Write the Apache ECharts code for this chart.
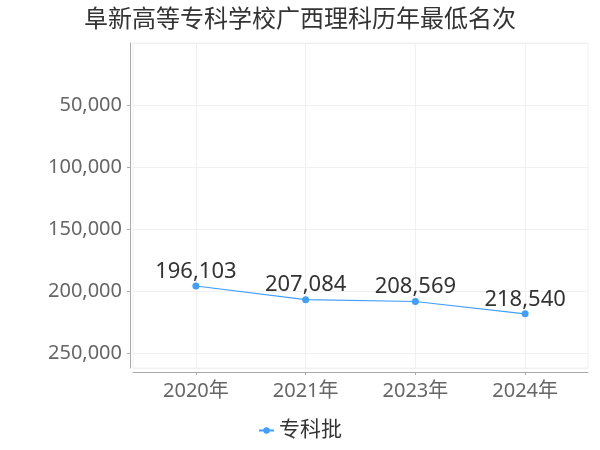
<!DOCTYPE html>
<html>
<head>
<meta charset="utf-8">
<script src="https://cdn.jsdelivr.net/npm/echarts@6/dist/echarts.min.js"></script>
<style>
html,body{margin:0;padding:0;background:#fff;}
#main{width:600px;height:450px;}
</style>
</head>
<body>
<div id="main"></div>
<script>
var titleText = '阜新高等专科学校广西理科历年最低名次';
var years = ['2020年', '2021年', '2023年', '2024年'];
var seriesName = '专科批';
var rank = [196103, 207084, 208569, 218540];
var yInterval = 50000;

var FONT = "'Noto Sans', 'Noto Sans CJK SC', sans-serif";
var yMax = Math.max.apply(null, rank) * 1.2;

var chart = echarts.init(document.getElementById('main'));
chart.setOption({
  animation: false,
  backgroundColor: '#fff',
  textStyle: { fontFamily: FONT },
  title: {
    text: titleText,
    left: 'center',
    top: 3,
    textStyle: { fontSize: 24, fontWeight: 'normal', color: '#333', fontFamily: FONT }
  },
  legend: {
    bottom: 4,
    left: 'center',
    itemWidth: 15,
    itemHeight: 8,
    itemGap: 10,
    textStyle: { fontSize: 21, color: '#333', fontFamily: FONT },
    data: [seriesName]
  },
  grid: [
    { left: 133, right: 12, top: 43, bottom: 82, show: true, borderColor: '#f0f0f0', borderWidth: 1 },
    { left: 141, right: 20, top: 43, bottom: 82 }
  ],
  xAxis: [
    {
      gridIndex: 0, type: 'category', data: years, offset: 4, position: 'bottom',
      axisLine: { show: true, onZero: false, lineStyle: { color: '#aaa' } },
      axisTick: { show: false }, axisLabel: { show: false }, splitLine: { show: false }
    },
    {
      gridIndex: 1, type: 'category', data: years, offset: 4, boundaryGap: true, position: 'bottom',
      axisLine: { show: false, onZero: false },
      axisTick: { show: true, alignWithLabel: true, length: 3, lineStyle: { color: '#aaa' } },
      axisLabel: { fontSize: 20, color: '#666', margin: 9, fontFamily: FONT },
      splitLine: { show: true, alignWithLabel: true, lineStyle: { color: '#f0f0f0' } }
    }
  ],
  yAxis: [
    {
      gridIndex: 0, type: 'value', inverse: true, min: 0, max: yMax, interval: yInterval, offset: 3,
      axisLine: { show: false, onZero: false, lineStyle: { color: '#f0f0f0' } },
      axisTick: { show: true, length: 3, lineStyle: { color: '#aaa' } },
      axisLabel: { fontSize: 20, color: '#666', margin: 8, showMinLabel: false, showMaxLabel: false, fontFamily: FONT },
      splitLine: { show: true, lineStyle: { color: '#f0f0f0' } }
    },
    {
      gridIndex: 1, type: 'value', inverse: true, min: 0, max: yMax, offset: 11,
      axisLine: { show: true, onZero: false, lineStyle: { color: '#aaa' } },
      axisTick: { show: false }, axisLabel: { show: false }, splitLine: { show: false }
    }
  ],
  series: [{
    name: seriesName,
    type: 'line',
    xAxisIndex: 1,
    yAxisIndex: 1,
    data: rank,
    symbol: 'circle',
    symbolSize: 7,
    color: '#409eff',
    lineStyle: { width: 1.2, color: '#409eff' },
    label: {
      show: true, position: 'top', distance: 0, fontSize: 22, color: '#333', fontFamily: FONT,
      formatter: function (p) { return echarts.format.addCommas(p.value); }
    }
  }]
});
</script>
</body>
</html>
